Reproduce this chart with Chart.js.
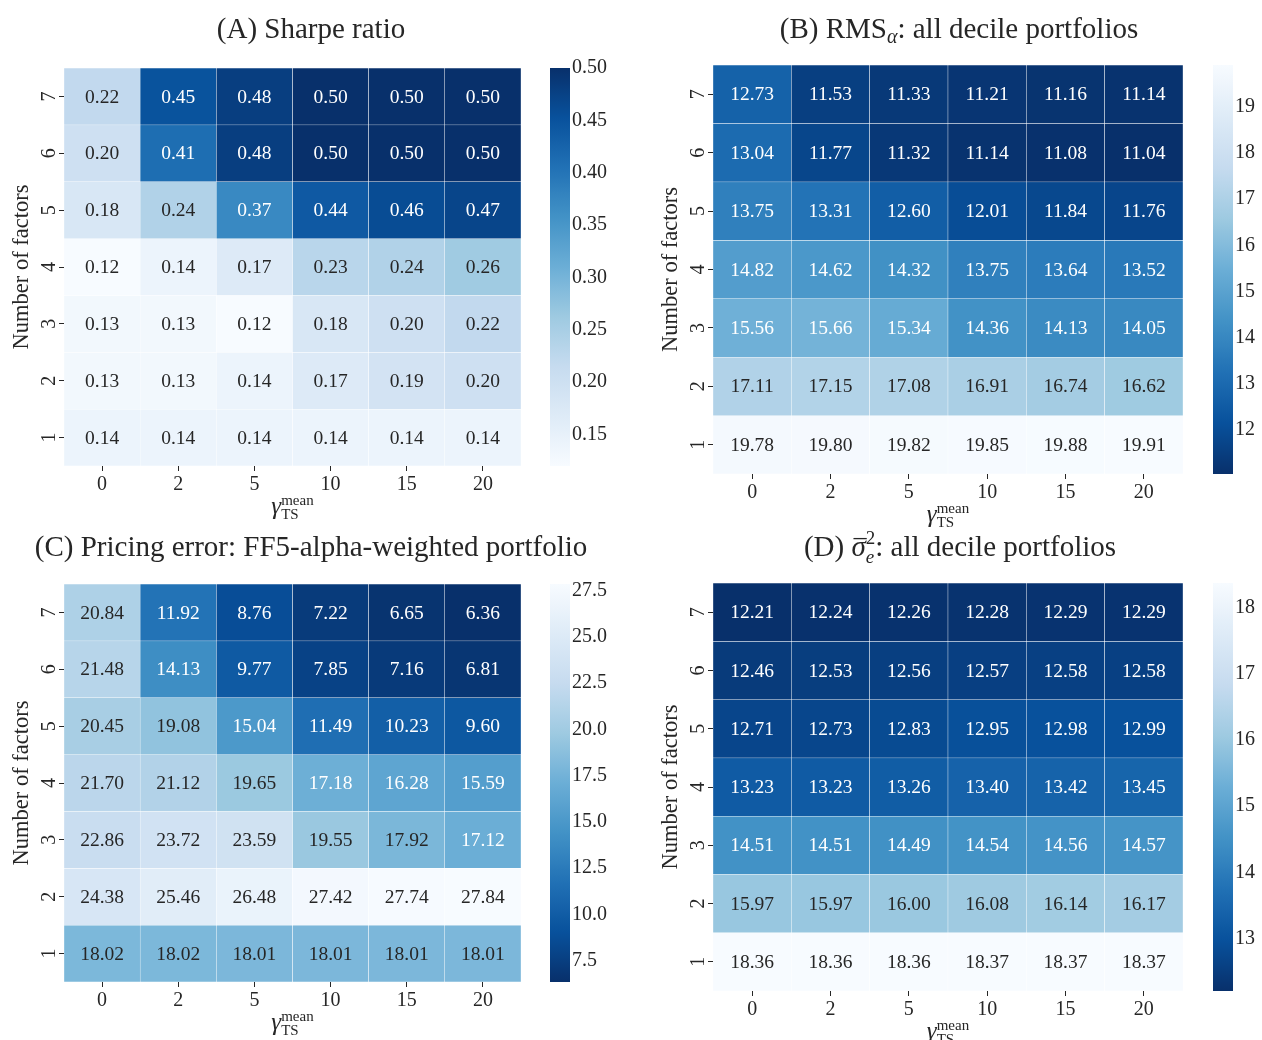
<!DOCTYPE html>
<html>
<head>
<meta charset="utf-8">
<script src="https://cdn.jsdelivr.net/npm/chart.js@4.4.1/dist/chart.umd.min.js"></script>
<style>
  html, body { margin: 0; padding: 0; background: #ffffff; }
  body { width: 1262px; height: 1040px; position: relative; overflow: hidden; }
  canvas { position: absolute; }
</style>
</head>
<body>
<script>
// ---- data -------------------------------------------------------------
const gammaLabels = ['0', '2', '5', '10', '15', '20'];
// rows are listed from the top of each grid (7 factors) down to 1 factor
const factorRows = [7, 6, 5, 4, 3, 2, 1];

const sharpeRatio = [
  [0.22, 0.45, 0.48, 0.50, 0.50, 0.50],
  [0.20, 0.41, 0.48, 0.50, 0.50, 0.50],
  [0.18, 0.24, 0.37, 0.44, 0.46, 0.47],
  [0.12, 0.14, 0.17, 0.23, 0.24, 0.26],
  [0.13, 0.13, 0.12, 0.18, 0.20, 0.22],
  [0.13, 0.13, 0.14, 0.17, 0.19, 0.20],
  [0.14, 0.14, 0.14, 0.14, 0.14, 0.14]
];
const rmsAlpha = [
  [12.73, 11.53, 11.33, 11.21, 11.16, 11.14],
  [13.04, 11.77, 11.32, 11.14, 11.08, 11.04],
  [13.75, 13.31, 12.60, 12.01, 11.84, 11.76],
  [14.82, 14.62, 14.32, 13.75, 13.64, 13.52],
  [15.56, 15.66, 15.34, 14.36, 14.13, 14.05],
  [17.11, 17.15, 17.08, 16.91, 16.74, 16.62],
  [19.78, 19.80, 19.82, 19.85, 19.88, 19.91]
];
const pricingError = [
  [20.84, 11.92, 8.76, 7.22, 6.65, 6.36],
  [21.48, 14.13, 9.77, 7.85, 7.16, 6.81],
  [20.45, 19.08, 15.04, 11.49, 10.23, 9.60],
  [21.70, 21.12, 19.65, 17.18, 16.28, 15.59],
  [22.86, 23.72, 23.59, 19.55, 17.92, 17.12],
  [24.38, 25.46, 26.48, 27.42, 27.74, 27.84],
  [18.02, 18.02, 18.01, 18.01, 18.01, 18.01]
];
const residualVar = [
  [12.21, 12.24, 12.26, 12.28, 12.29, 12.29],
  [12.46, 12.53, 12.56, 12.57, 12.58, 12.58],
  [12.71, 12.73, 12.83, 12.95, 12.98, 12.99],
  [13.23, 13.23, 13.26, 13.40, 13.42, 13.45],
  [14.51, 14.51, 14.49, 14.54, 14.56, 14.57],
  [15.97, 15.97, 16.00, 16.08, 16.14, 16.17],
  [18.36, 18.36, 18.36, 18.37, 18.37, 18.37]
];

const sharpeTicks = [0.15, 0.20, 0.25, 0.30, 0.35, 0.40, 0.45, 0.50];
const rmsTicks = [12, 13, 14, 15, 16, 17, 18, 19];
const pricingTicks = [7.5, 10.0, 12.5, 15.0, 17.5, 20.0, 22.5, 25.0, 27.5];
const residualTicks = [13, 14, 15, 16, 17, 18];

// ---- styling helpers --------------------------------------------------
const FONT = "'Liberation Serif', 'DejaVu Serif', serif";
const INK = '#262626';
Chart.defaults.font.family = FONT;
Chart.defaults.color = INK;

const BLUES = [
  [247, 251, 255], [222, 235, 247], [198, 219, 239], [158, 202, 225],
  [107, 174, 214], [66, 146, 198], [33, 113, 181], [8, 81, 156], [8, 48, 107]
];
function bluesRGB(t) {
  t = Math.min(1, Math.max(0, t));
  const x = t * (BLUES.length - 1);
  const i = Math.min(BLUES.length - 2, Math.floor(x));
  const f = x - i;
  return BLUES[i].map((c, k) => c + (BLUES[i + 1][k] - c) * f);
}
const rgbStr = c => `rgb(${c.map(Math.round).join(',')})`;
function luminance(c) {
  const lin = c.map(v => {
    v /= 255;
    return v <= 0.03928 ? v / 12.92 : Math.pow((v + 0.055) / 1.055, 2.4);
  });
  return 0.2126 * lin[0] + 0.7152 * lin[1] + 0.0722 * lin[2];
}

// draw a run of text pieces; a piece may carry a stacked sup/sub pair
function drawRich(ctx, pieces, cx, cy) {
  const widthOf = p => {
    if (p.stack) {
      ctx.font = `${p.size}px ${FONT}`;
      const a = ctx.measureText(p.sup).width;
      ctx.font = `${p.italicSub ? 'italic ' : ''}${p.size}px ${FONT}`;
      return Math.max(a, ctx.measureText(p.sub).width);
    }
    ctx.font = `${p.italic ? 'italic ' : ''}${p.size}px ${FONT}`;
    return ctx.measureText(p.text).width;
  };
  const total = pieces.reduce((s, p) => s + widthOf(p) + (p.gap || 0), 0);
  let x = cx - total / 2;
  ctx.save();
  ctx.fillStyle = INK;
  ctx.strokeStyle = INK;
  ctx.textAlign = 'left';
  ctx.textBaseline = 'alphabetic';
  for (const p of pieces) {
    const w = widthOf(p);
    if (p.stack) {
      ctx.font = `${p.size}px ${FONT}`;
      ctx.fillText(p.sup, x, cy + p.supDy);
      ctx.font = `${p.italicSub ? 'italic ' : ''}${p.size}px ${FONT}`;
      ctx.fillText(p.sub, x, cy + p.subDy);
    } else {
      ctx.font = `${p.italic ? 'italic ' : ''}${p.size}px ${FONT}`;
      ctx.fillText(p.text, x, cy + (p.dy || 0));
      if (p.overline) {
        ctx.lineWidth = 1.3;
        ctx.beginPath();
        ctx.moveTo(x + 2, cy - p.size * 0.6);
        ctx.lineTo(x + w + 1, cy - p.size * 0.6);
        ctx.stroke();
      }
    }
    x += w + (p.gap || 0);
  }
  ctx.restore();
}

const gammaTitle = [
  { text: 'γ', italic: true, size: 25 },
  { stack: true, sup: 'mean', sub: 'TS', size: 15, supDy: -9, subDy: 5 }
];

// ---- heatmap panel ----------------------------------------------------
function addCanvas(left, top, width, height) {
  const c = document.createElement('canvas');
  c.width = width; c.height = height;
  c.style.left = left + 'px'; c.style.top = top + 'px';
  c.style.width = width + 'px'; c.style.height = height + 'px';
  document.body.appendChild(c);
  return c;
}

function heatmapPanel(cfg) {
  const { area, values, reversed, title, titleX, titleY, cbar, cbarTicks, decimals } = cfg;
  const flat = values.flat();
  const vmin = Math.min(...flat), vmax = Math.max(...flat);
  const colorOf = v => bluesRGB(reversed ? (vmax - v) / (vmax - vmin) : (v - vmin) / (vmax - vmin));

  const YW = 72, XH = 70, PADR = 95;
  const left = area.L - YW, top = 0;
  const width = area.R - area.L + YW + PADR;
  const height = area.B + XH + 4;
  const canvas = addCanvas(left, top, width, height);

  const datasets = factorRows.map((f, r) => ({
    label: String(f),
    data: values[r].map(() => [f - 0.5, f + 0.5]),
    backgroundColor: values[r].map(v => rgbStr(colorOf(v))),
    borderColor: '#ffffff',
    borderWidth: 0.5,
    borderSkipped: false,
    categoryPercentage: 1,
    barPercentage: 1,
    grouped: false
  }));

  const annotate = {
    id: 'cellText',
    afterDatasetsDraw(chart) {
      const { ctx, scales: { x, y } } = chart;
      ctx.save();
      ctx.font = `19.5px ${FONT}`;
      ctx.textAlign = 'center';
      ctx.textBaseline = 'middle';
      factorRows.forEach((f, r) => {
        values[r].forEach((v, c) => {
          const col = colorOf(v);
          ctx.fillStyle = luminance(col) > 0.408 ? INK : '#ffffff';
          ctx.fillText(v.toFixed(2), x.getPixelForValue(c), y.getPixelForValue(f) + 1);
        });
      });
      ctx.restore();
    },
    afterDraw(chart) {
      const { ctx, chartArea: ca } = chart;
      drawRich(ctx, title, titleX - left, titleY);
      // y-axis title
      ctx.save();
      ctx.translate(ca.left - 42, (ca.top + ca.bottom) / 2);
      ctx.rotate(-Math.PI / 2);
      ctx.font = `22.5px ${FONT}`;
      ctx.fillStyle = INK;
      ctx.textAlign = 'center';
      ctx.textBaseline = 'middle';
      ctx.fillText('Number of factors', 0, 0);
      ctx.restore();
      // x-axis title
      drawRich(ctx, gammaTitle, (ca.left + ca.right) / 2, ca.bottom + 48);
    }
  };

  new Chart(canvas, {
    type: 'bar',
    data: { labels: gammaLabels, datasets },
    options: {
      responsive: false,
      animation: false,
      devicePixelRatio: 1,
      layout: { padding: { top: area.T, right: PADR, bottom: height - area.B - XH, left: 0 } },
      plugins: { legend: { display: false }, tooltip: { enabled: false } },
      scales: {
        x: {
          type: 'category',
          offset: true,
          grid: { display: true, drawOnChartArea: false, offset: false, tickLength: 5, tickColor: INK, tickWidth: 1 },
          border: { display: false },
          ticks: { font: { size: 20 }, color: INK, padding: 2, maxRotation: 0 },
          afterFit(s) { s.height = XH; }
        },
        y: {
          type: 'linear',
          min: 0.5,
          max: 7.5,
          afterBuildTicks(s) { s.ticks = factorRows.map(v => ({ value: v })); },
          grid: { display: true, drawOnChartArea: false, tickLength: 5, tickColor: INK, tickWidth: 1 },
          border: { display: false },
          ticks: { font: { size: 20 }, color: INK, padding: 4, minRotation: 90, maxRotation: 90, crossAlign: 'center',
                   callback: v => String(v) },
          afterFit(s) { s.width = YW; }
        }
      }
    },
    plugins: [annotate]
  });

  // colour bar (padding leaves room for the end tick labels)
  const CBW = 20, LBW = 60, PADV = 24;
  const cbCanvas = addCanvas(cbar, area.T - PADV, CBW + LBW, area.B - area.T + 2 * PADV);
  new Chart(cbCanvas, {
    type: 'bar',
    data: {
      labels: [''],
      datasets: [{
        data: [[vmin, vmax]],
        borderWidth: 0,
        categoryPercentage: 1,
        barPercentage: 1,
        backgroundColor(c) {
          const chart = c.chart;
          if (!chart.chartArea) return null;
          const ys = chart.scales.y;
          const g = chart.ctx.createLinearGradient(0, ys.getPixelForValue(vmin), 0, ys.getPixelForValue(vmax));
          for (let i = 0; i <= 32; i++) {
            const t = i / 32;
            g.addColorStop(t, rgbStr(bluesRGB(reversed ? 1 - t : t)));
          }
          return g;
        }
      }]
    },
    options: {
      responsive: false,
      animation: false,
      devicePixelRatio: 1,
      layout: { padding: { top: PADV, bottom: PADV, left: 0, right: 0 } },
      plugins: { legend: { display: false }, tooltip: { enabled: false } },
      scales: {
        x: { display: false },
        y: {
          position: 'right',
          min: vmin,
          max: vmax,
          afterBuildTicks(s) { s.ticks = cbarTicks.map(v => ({ value: v })); },
          grid: { display: false, drawTicks: false },
          border: { display: false },
          ticks: { font: { size: 20 }, color: INK, padding: 2, callback: v => Number(v).toFixed(decimals) },
          afterFit(s) { s.width = LBW; }
        }
      }
    }
  });
}

// ---- the four panels --------------------------------------------------
const TS = 29;
heatmapPanel({
  area: { L: 64, T: 68, R: 521, B: 466 },
  values: sharpeRatio, reversed: false,
  title: [{ text: '(A) Sharpe ratio', size: TS }],
  titleX: 311, titleY: 38,
  cbar: 550, cbarTicks: sharpeTicks, decimals: 2
});

heatmapPanel({
  area: { L: 713, T: 65, R: 1183, B: 474 },
  values: rmsAlpha, reversed: true,
  title: [
    { text: '(B) RMS', size: TS },
    { text: 'α', italic: true, size: 20, dy: 5 },
    { text: ': all decile portfolios', size: TS }
  ],
  titleX: 959, titleY: 38,
  cbar: 1213, cbarTicks: rmsTicks, decimals: 0
});

heatmapPanel({
  area: { L: 64, T: 584, R: 521, B: 982 },
  values: pricingError, reversed: true,
  title: [{ text: '(C) Pricing error: FF5-alpha-weighted portfolio', size: TS }],
  titleX: 311, titleY: 556,
  cbar: 550, cbarTicks: pricingTicks, decimals: 1
});

heatmapPanel({
  area: { L: 713, T: 583, R: 1183, B: 991 },
  values: residualVar, reversed: true,
  title: [
    { text: '(D) ', size: TS },
    { text: 'σ', italic: true, size: TS, overline: true },
    { stack: true, sup: '2', sub: 'e', italicSub: true, size: 19, supDy: -12, subDy: 7 },
    { text: ': all decile portfolios', size: TS }
  ],
  titleX: 960, titleY: 556,
  cbar: 1213, cbarTicks: residualTicks, decimals: 0
});
</script>
</body>
</html>
